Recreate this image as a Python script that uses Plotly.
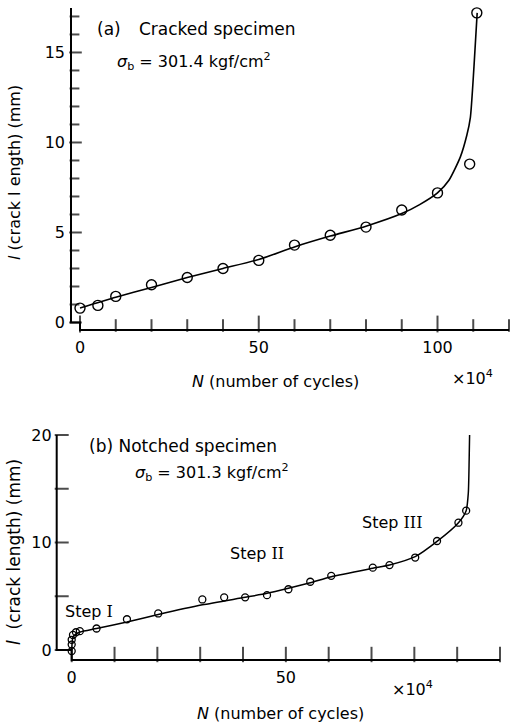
import plotly.graph_objects as go

# ---------------- data ----------------
# (a) Cracked specimen, N in units of 1e4 cycles, l in mm
a_cycles = [0, 5, 10, 20, 30, 40, 50, 60, 70, 80, 90, 100, 109, 111]
a_length = [0.8, 0.95, 1.45, 2.1, 2.5, 3.0, 3.45, 4.3, 4.85, 5.3, 6.25, 7.2, 8.8, 17.2]
a_fit_cycles = [0, 10, 20, 30, 40, 50, 60, 70, 80, 90, 95, 100, 103.2, 106.4, 108.2, 109.2, 110.2, 111.1]
a_fit_length = [0.8, 1.4, 1.95, 2.5, 3.0, 3.5, 4.2, 4.8, 5.35, 6.05, 6.55, 7.2, 7.9, 9.2, 10.4, 11.4, 14.2, 17.2]

# (b) Notched specimen
b_cycles = [0, 0, 0, 0.3, 1.0, 1.9, 5.8, 12.9, 20.2, 30.5, 35.6, 40.5, 45.6, 50.6, 55.7, 60.6,
            70.3, 74.2, 80.2, 85.3, 90.3, 92.1, 92.9]
b_length = [-0.1, 0.5, 0.95, 1.4, 1.65, 1.75, 2.0, 2.86, 3.4, 4.7, 4.9, 4.9, 5.1, 5.65, 6.35, 6.9,
            7.66, 7.9, 8.6, 10.14, 11.84, 12.96, 20.2]
b_fit_cycles = [0, 0.3, 1.0, 2.0, 5.8, 12.9, 20.2, 30.5, 40.5, 45.6, 50.6, 55.7, 60.6, 70.3, 74.2,
                80.2, 85.3, 90.3, 92.1, 92.6, 92.8, 92.9]
b_fit_length = [0, 1.2, 1.5, 1.68, 2.0, 2.6, 3.3, 4.2, 4.9, 5.27, 5.74, 6.26, 6.82, 7.6, 7.9,
                8.68, 10.1, 11.84, 12.96, 14.6, 17.7, 20.0]

# tick positions and labels ("" = unlabeled tick)
a_xtick_vals = [0, 10, 20, 30, 40, 50, 60, 70, 80, 90, 100, 110, 120]
a_xtick_text = ["0", "", "", "", "", "50", "", "", "", "", "100", "", ""]
a_ytick_vals = [0, 1, 2, 3, 4, 5, 6, 7, 8, 9, 10, 11, 12, 13, 14, 15, 16, 17]
a_ytick_text = ["0", "", "", "", "", "5", "", "", "", "", "10", "", "", "", "", "15", "", ""]
b_xtick_vals = [0, 10, 20, 30, 40, 50, 60, 70, 80, 90, 100]
b_xtick_text = ["0", "", "", "", "", "50", "", "", "", "", "100"]
b_ytick_vals = [0, 5, 10, 15, 20]
b_ytick_text = ["0", "", "10", "", "20"]

# ---------------- layout geometry (pixels) ----------------
W, H = 511, 726
FONT = "DejaVu Sans"


def fx(p):
    return p / W


def fy(p):
    return 1 - p / H


# panel frames: y-axis line x, data x0 pixel, data x-end pixel, x value at end,
#               x-axis line y, data y0 pixel, data y-top pixel, y value at top
PA = dict(xl=71, x0=80, x1=509, xv=120, yb=330, y0=322.5, y1=8, yv=17.47)
PB = dict(xl=56.7, x0=71.7, x1=500, xv=100, yb=660, y0=650, y1=435, yv=20)


def frame(p):
    sx = (p["x1"] - p["x0"]) / p["xv"]
    sy = (p["y0"] - p["y1"]) / p["yv"]
    xr = [-(p["x0"] - p["xl"]) / sx, p["xv"]]
    yr = [-(p["yb"] - p["y0"]) / sy, p["yv"]]
    return [fx(p["xl"]), fx(p["x1"])], xr, [fy(p["yb"]), fy(p["y1"])], yr, sx, sy


a_xdom, a_xr, a_ydom, a_yr, a_sx, a_sy = frame(PA)
b_xdom, b_xr, b_ydom, b_yr, b_sx, b_sy = frame(PB)

fig = go.Figure()

# panel (a)
fig.add_trace(go.Scatter(x=a_fit_cycles, y=a_fit_length, mode="lines",
                         line=dict(color="black", width=1.6, shape="spline", smoothing=0.6),
                         xaxis="x", yaxis="y", showlegend=False, hoverinfo="skip"))
fig.add_trace(go.Scatter(x=a_cycles, y=a_length, mode="markers",
                         marker=dict(symbol="circle-open", size=10, color="black",
                                     line=dict(width=1.4, color="black")),
                         xaxis="x", yaxis="y", showlegend=False, cliponaxis=False))
# panel (b)
fig.add_trace(go.Scatter(x=b_fit_cycles, y=b_fit_length, mode="lines",
                         line=dict(color="black", width=1.5, shape="spline", smoothing=0.6),
                         xaxis="x2", yaxis="y2", showlegend=False, hoverinfo="skip"))
fig.add_trace(go.Scatter(x=b_cycles, y=b_length, mode="markers",
                         marker=dict(symbol="circle-open", size=7, color="black",
                                     line=dict(width=1.3, color="black")),
                         xaxis="x2", yaxis="y2", showlegend=False, cliponaxis=False))


# inward tick marks (placed with the axis scales, from the tick lists)
def x_ticks(vals, texts, yr, sy, xa, ya, major_len, minor_len):
    lens = [major_len if t else minor_len for t in texts]
    fig.add_trace(go.Scatter(
        x=vals, y=[yr[0] + (L / 2) / sy for L in lens], mode="markers",
        marker=dict(symbol="line-ns", size=lens, color="black",
                    line=dict(width=2, color="black")),
        xaxis=xa, yaxis=ya, showlegend=False, hoverinfo="skip", cliponaxis=False))


def y_ticks(vals, texts, xr, sx, xa, ya, major_len, minor_len):
    lens = [major_len if t else minor_len for t in texts]
    fig.add_trace(go.Scatter(
        x=[xr[0] + (L / 2) / sx for L in lens], y=vals, mode="markers",
        marker=dict(symbol="line-ew", size=lens, color="black",
                    line=dict(width=2, color="black")),
        xaxis=xa, yaxis=ya, showlegend=False, hoverinfo="skip", cliponaxis=False))


x_ticks(a_xtick_vals, a_xtick_text, a_yr, a_sy, "x", "y", 12, 9)
y_ticks(a_ytick_vals, a_ytick_text, a_xr, a_sx, "x", "y", 9, 7)
x_ticks(b_xtick_vals, b_xtick_text, b_yr, b_sy, "x2", "y2", 11, 11)
y_ticks(b_ytick_vals, b_ytick_text, b_xr, b_sx, "x2", "y2", 10, 10)


def labelled(vals, texts):
    pairs = [(v, t) for v, t in zip(vals, texts) if t]
    return [v for v, _ in pairs], [t for _, t in pairs]


tickfont = dict(family=FONT, size=16, color="black")
common = dict(showgrid=False, zeroline=False, showline=False, ticks="", automargin=False,
              tickfont=tickfont, tickmode="array")

ax_v, ax_t = labelled(a_xtick_vals, a_xtick_text)
ay_v, ay_t = labelled(a_ytick_vals, a_ytick_text)
bx_v, bx_t = labelled(b_xtick_vals, b_xtick_text)
by_v, by_t = labelled(b_ytick_vals, b_ytick_text)

fig.update_layout(
    width=W, height=H, margin=dict(l=0, r=0, t=0, b=0, pad=0, autoexpand=False),
    paper_bgcolor="white", plot_bgcolor="white",
    xaxis=dict(domain=a_xdom, range=a_xr, anchor="y", ticklabelstandoff=6,
               tickvals=ax_v, ticktext=ax_t, **common),
    yaxis=dict(domain=a_ydom, range=a_yr, anchor="x", ticklabelstandoff=5,
               tickvals=ay_v, ticktext=ay_t, **common),
    xaxis2=dict(domain=b_xdom, range=b_xr, anchor="y2", ticklabelstandoff=6,
                tickvals=bx_v, ticktext=bx_t, **common),
    yaxis2=dict(domain=b_ydom, range=b_yr, anchor="x2", ticklabelstandoff=4,
                tickvals=by_v, ticktext=by_t, **common),
)

# axis lines with the small step at the origin, as in the original
for p in (PA, PB):
    pts = [(p["xl"], p["y1"]), (p["xl"], p["y0"]), (p["x0"], p["y0"]),
           (p["x0"], p["yb"]), (p["x1"], p["yb"])]
    path = "M " + " L ".join(f"{fx(a)},{fy(b)}" for a, b in pts)
    fig.add_shape(type="path", xref="paper", yref="paper", path=path,
                  line=dict(color="black", width=2), fillcolor="rgba(0,0,0,0)", layer="above")


def note(text, x, y, size=17, angle=0, xanchor="left"):
    fig.add_annotation(text=text, x=fx(x), y=fy(y), xref="paper", yref="paper",
                       xanchor=xanchor, yanchor="middle", showarrow=False, textangle=angle,
                       font=dict(family=FONT, size=size, color="black"))


SERIF = "<span style=\"font-family:'DejaVu Serif'\">{}</span>"

# panel (a) texts
note("(a)", 95, 29)
note("Cracked specimen", 137, 29)
note("<i>σ</i><sub>b</sub> = 301.4 kgf/cm<sup>2</sup>", 115, 62, size=16)
note("<i>N</i> (number of cycles)", 190, 381, size=16)
note("×10<sup>4</sup>", 450, 377, size=16)
note("<i>l</i> (crack l ength) (mm)", 14, 173, size=16, angle=-90, xanchor="center")

# panel (b) texts
note("(b) Notched specimen", 87, 446)
note("<i>σ</i><sub>b</sub> = 301.3 kgf/cm<sup>2</sup>", 133, 472, size=16)
note("Step " + SERIF.format("I"), 63, 611, size=16)
note("Step " + SERIF.format("II"), 228, 553, size=16)
note("Step " + SERIF.format("III"), 360, 522, size=16)
note("<i>N</i> (number of cycles)", 195, 713, size=16)
note("×10<sup>4</sup>", 390, 688, size=16)
note("<i>l</i>  (crack length) (mm)", 14, 552, size=17, angle=-90, xanchor="center")

fig.write_html("out.html")
